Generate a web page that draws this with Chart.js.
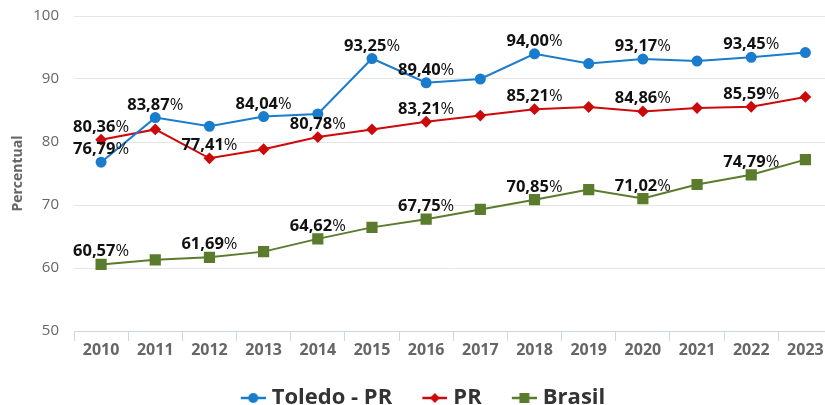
<!DOCTYPE html>
<html>
<head>
<meta charset="utf-8">
<script src="https://cdn.jsdelivr.net/npm/chart.js@4.4.1/dist/chart.umd.min.js"></script>
<style>
  html, body { margin: 0; padding: 0; background: #fff; overflow: hidden; }
  #wrap { width: 841px; height: 405px; }
</style>
</head>
<body>
<div id="wrap"><canvas id="chart" width="841" height="405"></canvas></div>
<script>
// Data
const years = ['2010', '2011', '2012', '2013', '2014', '2015', '2016', '2017', '2018', '2019', '2020', '2021', '2022', '2023'];
const toledo = [76.79, 83.87, 82.5, 84.04, 84.45, 93.25, 89.40, 90.0, 94.00, 92.45, 93.17, 92.85, 93.45, 94.2];
const parana = [80.36, 82.0, 77.41, 78.85, 80.78, 82.0, 83.21, 84.2, 85.21, 85.55, 84.86, 85.4, 85.59, 87.15];
const brasil = [60.57, 61.3, 61.69, 62.6, 64.62, 66.45, 67.75, 69.3, 70.85, 72.45, 71.02, 73.25, 74.79, 77.2];

// Which points carry a value label
const toledoLabels = [0, 1, 3, 5, 6, 8, 10, 12];
const paranaLabels = [0, 2, 4, 6, 8, 10, 12];
const brasilLabels = [0, 2, 4, 6, 8, 10, 12];

const yTicks = [50, 60, 70, 80, 90, 100];

const BLUE = '#1a7ccc';
const RED = '#cc0a0a';
const GREEN = '#5b7b2d';
const FONT = "'Open Sans', sans-serif";

// small legend icons: line with the marker in the middle
// (drawn in the right part of the canvas so the text sits closer to it)
function legendIcon(color, style, size) {
  const c = document.createElement('canvas');
  c.width = 35;
  c.height = 14;
  const g = c.getContext('2d');
  const cx = 22.5;
  g.strokeStyle = color;
  g.fillStyle = color;
  g.lineWidth = 2.5;
  g.beginPath();
  g.moveTo(10, 7);
  g.lineTo(35, 7);
  g.stroke();
  g.beginPath();
  if (style === 'circle') {
    g.arc(cx, 7, size, 0, Math.PI * 2);
  } else if (style === 'diamond') {
    g.moveTo(cx, 7 - size);
    g.lineTo(cx + size, 7);
    g.lineTo(cx, 7 + size);
    g.lineTo(cx - size, 7);
    g.closePath();
  } else {
    g.rect(cx - size, 7 - size, size * 2, size * 2);
  }
  g.fill();
  return c;
}

const valueLabels = {
  id: 'valueLabels',
  afterDatasetsDraw(chart) {
    const ctx = chart.ctx;
    const sets = [toledoLabels, paranaLabels, brasilLabels];
    ctx.save();
    ctx.fillStyle = '#111';
    ctx.textBaseline = 'alphabetic';
    chart.data.datasets.forEach((ds, i) => {
      const meta = chart.getDatasetMeta(i);
      sets[i].forEach((idx) => {
        const pt = meta.data[idx];
        const num = ds.data[idx].toFixed(2).replace('.', ',');
        ctx.font = `bold 16.5px ${FONT}`;
        const wNum = ctx.measureText(num).width;
        ctx.font = `normal 16.5px ${FONT}`;
        const wPct = ctx.measureText('%').width;
        const x = pt.x - (wNum + wPct) / 2;
        const y = pt.y - 8;
        ctx.textAlign = 'left';
        ctx.font = `bold 16.5px ${FONT}`;
        ctx.fillText(num, x, y);
        ctx.font = `normal 16.5px ${FONT}`;
        ctx.fillText('%', x + wNum, y);
      });
    });
    ctx.restore();
  }
};

new Chart(document.getElementById('chart'), {
  type: 'line',
  data: {
    labels: years,
    datasets: [
      {
        label: 'Toledo - PR',
        data: toledo,
        borderColor: BLUE,
        backgroundColor: BLUE,
        borderWidth: 2,
        pointStyle: 'circle',
        pointRadius: 4.5,
        pointHoverRadius: 4.5
      },
      {
        label: 'PR',
        data: parana,
        borderColor: RED,
        backgroundColor: RED,
        borderWidth: 2,
        pointStyle: 'rectRot',
        pointRadius: 4.5,
        pointHoverRadius: 4.5
      },
      {
        label: 'Brasil',
        data: brasil,
        borderColor: GREEN,
        backgroundColor: GREEN,
        borderWidth: 2,
        pointStyle: 'rect',
        pointRadius: 6.5,
        pointHoverRadius: 6.5
      }
    ]
  },
  options: {
    responsive: false,
    animation: false,
    layout: { padding: { top: 16, right: 0, left: 0, bottom: -14 } },
    plugins: {
      tooltip: { enabled: false },
      legend: {
        position: 'bottom',
        labels: {
          usePointStyle: true,
          pointStyleWidth: 25,
          boxHeight: 14,
          padding: 8,
          color: '#333',
          font: { family: FONT, size: 22, weight: 'bold' },
          generateLabels: (chart) => {
            const icons = [
              legendIcon(BLUE, 'circle', 5),
              legendIcon(RED, 'diamond', 5),
              legendIcon(GREEN, 'square', 5)
            ];
            return chart.data.datasets.map((ds, i) => ({
              text: ds.label + (i < 2 ? '   ' : ''),
              pointStyle: icons[i],
              fillStyle: ds.borderColor,
              strokeStyle: ds.borderColor,
              lineWidth: 0,
              fontColor: '#333',
              hidden: false,
              datasetIndex: i
            }));
          }
        }
      }
    },
    scales: {
      x: {
        offset: true,
        afterFit: (s) => { s.height = 48; },
        grid: {
          drawOnChartArea: false,
          drawTicks: true,
          tickLength: 10,
          color: '#ccd6eb',
          offset: true
        },
        border: { color: '#ccd6eb', width: 1 },
        ticks: {
          color: '#666',
          font: { family: FONT, size: 16, weight: 'bold' },
          padding: 0,
          maxRotation: 0,
          autoSkip: false
        }
      },
      y: {
        min: 50,
        max: 100,
        afterFit: (s) => { s.width = 74; s.paddingTop = 0; s.paddingBottom = 0; },
        afterBuildTicks: (s) => { s.ticks = yTicks.map((v) => ({ value: v })); },
        grid: { color: '#e6e6e6', drawTicks: false },
        border: { display: false },
        ticks: {
          color: '#666',
          font: { family: FONT, size: 15 },
          padding: 15
        },
        title: {
          display: true,
          text: 'Percentual',
          color: '#666',
          font: { family: FONT, size: 14, weight: 'bold' },
          padding: { top: 10, bottom: 0 }
        }
      }
    }
  },
  plugins: [valueLabels]
});
</script>
</body>
</html>
